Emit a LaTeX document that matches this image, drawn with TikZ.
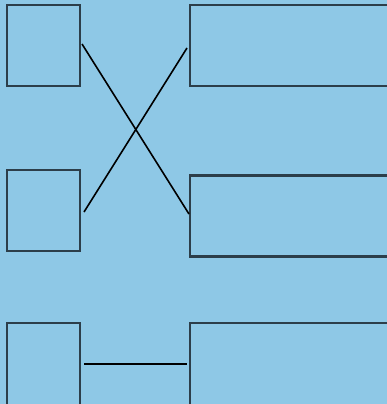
\documentclass[tikz,border=0pt]{standalone}
\definecolor{bg}{HTML}{8EC8E6}
\definecolor{edge}{HTML}{2C3E4A}
\begin{document}
\begin{tikzpicture}[x=1pt,y=-1pt,
  box/.style={draw=edge,line width=2.4pt,fill=bg,inner sep=0pt,outer sep=0pt},
  link/.style={draw=black,line width=1.6pt}]
\useasboundingbox (0,0) rectangle (387,404);
\clip (0,0) rectangle (387,404);
\fill[bg] (0,0) rectangle (387,404);
\node[box,minimum width=73pt,minimum height=81pt] (l1) at (43.5,45.5) {};
\node[box,minimum width=73pt,minimum height=81pt] (l2) at (43.5,210.5) {};
\node[box,minimum width=73pt,minimum height=84pt] (l3) at (43.5,365) {};
\node[box,minimum width=204pt,minimum height=81pt] (r1) at (292,45.5) {};
\node[box,minimum width=204pt,minimum height=81pt] (r2) at (292,216) {};
\node[box,minimum width=204pt,minimum height=84pt] (r3) at (292,365) {};
\draw[link] ([xshift=2pt,yshift=1.5pt]l1.east) -- ([xshift=-1pt,yshift=2pt]r2.west);
\draw[link] ([xshift=4pt,yshift=-1.5pt]l2.east) -- ([xshift=-3pt,yshift=-2.5pt]r1.west);
\draw[link] ([xshift=4pt,yshift=1pt]l3.east) -- ([xshift=-3pt,yshift=1pt]r3.west);
\end{tikzpicture}
\end{document}
